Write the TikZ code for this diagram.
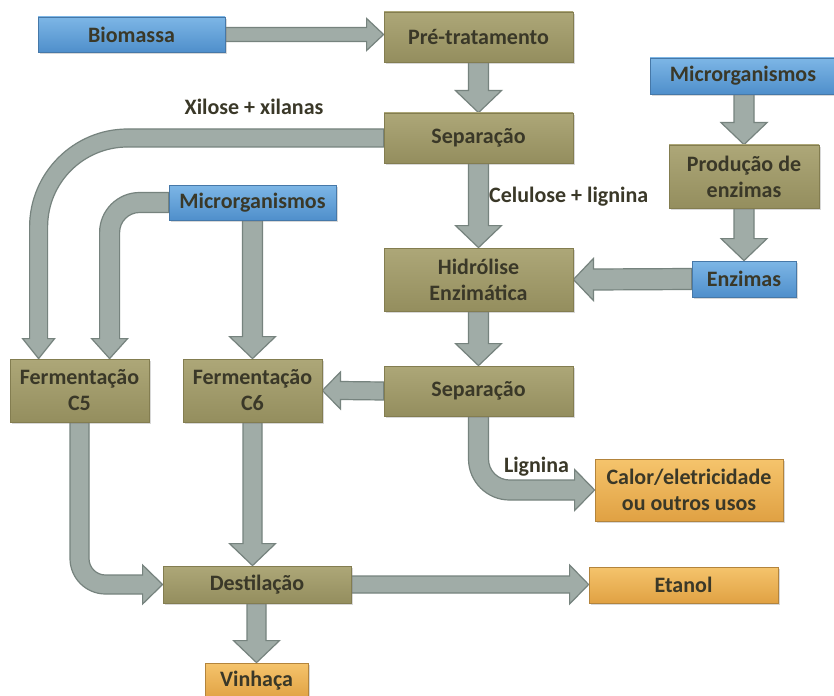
\documentclass[tikz,border=0pt]{standalone}
\usepackage{fontspec}
\setmainfont{Carlito}
\usetikzlibrary{calc,shadows}
\definecolor{oliveA}{HTML}{ADA778}
\definecolor{oliveC}{HTML}{948E5E}
\definecolor{oliveB}{HTML}{837D50}
\definecolor{blueA}{HTML}{7DB6E6}
\definecolor{blueC}{HTML}{4F8FCB}
\definecolor{blueB}{HTML}{4678A8}
\definecolor{orA}{HTML}{F5C46C}
\definecolor{orC}{HTML}{E0A143}
\definecolor{orB}{HTML}{B3843C}
\definecolor{arrF}{HTML}{A0ACA7}
\definecolor{arrB}{HTML}{76837E}
\definecolor{txt}{HTML}{3A3828}
\pgfdeclarelayer{back}\pgfdeclarelayer{bg}\pgfsetlayers{back,bg,main}
\tikzset{
 boxbase/.style={line width=0.8pt, inner sep=0pt, align=center, text=txt,
   font=\bfseries\fontsize{22}{26}\selectfont,
   drop shadow={opacity=0.3, shadow xshift=1.5pt, shadow yshift=-2pt}},
 olivebox/.style={boxbase, draw=oliveB, top color=oliveA, bottom color=oliveC},
 bluebox/.style={boxbase, draw=blueB, top color=blueA, bottom color=blueC},
 orbox/.style={boxbase, draw=orB, top color=orA, bottom color=orC},
 arr/.style={fill=arrF, draw=arrB, line width=1.2pt, line join=miter},
 lbl/.style={font=\bfseries\fontsize{22}{26}\selectfont, text=txt, inner sep=1pt}
}
% vertical block arrow: start, tip, half shaft, half head, head length (signed)
\newcommand\blockV[5]{%
 \filldraw[arr] ($(#1)+(-#3,0)$) -- ($(#2)+(-#3,-#5)$) -- ($(#2)+(-#4,-#5)$) -- (#2)
  -- ($(#2)+(#4,-#5)$) -- ($(#2)+(#3,-#5)$) -- ($(#1)+(#3,0)$) -- cycle;}
% horizontal block arrow: start, tip, half shaft, half head, head length (signed)
\newcommand\blockH[5]{%
 \filldraw[arr] ($(#1)+(0,-#3)$) -- ($(#2)+(#5,-#3)$) -- ($(#2)+(#5,-#4)$) -- (#2)
  -- ($(#2)+(#5,#4)$) -- ($(#2)+(#5,#3)$) -- ($(#1)+(0,#3)$) -- cycle;}
\begin{document}
\begin{tikzpicture}[x=1pt,y=-1pt]
\useasboundingbox (0,0) rectangle (834,695);
\begin{pgfonlayer}{back}
\fill[white] (0,0) rectangle (834,695);
\end{pgfonlayer}
% boxes
\node[bluebox, minimum width=187, minimum height=35] (bio) at (131.5,34.5) {Biomassa};
\node[olivebox, minimum width=189, minimum height=50] (pre) at (478.5,37) {Pré-tratamento};
\node[olivebox, minimum width=189, minimum height=50] (sep1) at (478.5,138) {Separação};
\node[olivebox, minimum width=189, minimum height=63] (hid) at (478.5,279.5) {Hidrólise\\Enzimática};
\node[bluebox, minimum width=186, minimum height=36] (micR) at (743,76) {Microrganismos};
\node[olivebox, minimum width=150, minimum height=63] (prod) at (744,176.5) {Produção de\\enzimas};
\node[bluebox, minimum width=104, minimum height=36] (enz) at (744,279) {Enzimas};
\node[bluebox, minimum width=167, minimum height=35] (micM) at (252.5,202.5) {Microrganismos};
\node[olivebox, minimum width=139, minimum height=63] (c5) at (79.5,390.5) {Fermentação\\C5};
\node[olivebox, minimum width=139, minimum height=63] (c6) at (252.5,390.5) {Fermentação\\C6};
\node[olivebox, minimum width=189, minimum height=50] (sep2) at (478.5,391) {Separação};
\node[orbox, minimum width=188, minimum height=62] (cal) at (689,490) {Calor/eletricidade\\ou outros usos};
\node[olivebox, minimum width=188, minimum height=37] (dest) at (257,584.5) {Destilação};
\node[orbox, minimum width=189, minimum height=36] (eta) at (683.5,585) {Etanol};
\node[orbox, minimum width=103, minimum height=36] (vin) at (256.5,681) {Vinhaça};
% labels
\node[lbl] (lx) at (254,107) {Xilose + xilanas};
\node[lbl, anchor=west] (lc) at (488,197) {Celulose + lignina};
\node[lbl] (ll) at (536.5,467) {Lignina};
% helper coordinates
\coordinate (pbt) at (pre.west |- bio.east);
\coordinate (mrs) at (micR.south -| prod.north);
\coordinate (dtop) at (c6.south |- dest.north);
\coordinate (vs) at (dest.south -| vin.north);
\coordinate (etw) at (eta.west |- dest.east);
\coordinate (t5a) at ($(c5.north west)+(29,0)$);
\coordinate (t5b) at ($(c5.north west)+(100,0)$);
\coordinate (K1) at (t5a |- sep1.west);
\coordinate (K2) at (t5b |- micM.west);
\coordinate (K3) at (sep2.south |- cal.west);
\coordinate (K4) at (c5.south |- dest.west);
\begin{pgfonlayer}{bg}
\blockH{bio.east}{pbt}{7}{16}{-17}
\blockV{pre.south}{sep1.north}{10}{23}{22}
\blockV{sep1.south}{hid.north}{10}{23}{22}
\blockV{hid.south}{sep2.north}{10}{23}{22}
\blockV{mrs}{prod.north}{10}{23}{22}
\blockV{prod.south}{enz.north}{10}{23}{22}
\blockH{enz.west}{hid.east}{10.5}{21}{20}
\blockV{micM.south}{c6.north}{10}{23}{22}
\blockH{sep2.west}{c6.east}{9}{18.5}{18}
\blockV{c6.south}{dtop}{9.5}{23}{22}
\blockV{vs}{vin.north}{9.5}{23}{22}
\blockH{dest.east}{etw}{8.5}{19.5}{-19}
% Xilose + xilanas
\filldraw[arr] ($(sep1.west)+(0,-9)$) -- ($(K1)+(89,-9)$)
  .. controls ($(K1)+(34.9,-9)$) and ($(K1)+(-9,34.9)$) .. ($(K1)+(-9,89)$)
  -- ($(t5a)+(-9,-20)$) -- ($(t5a)+(-16,-20)$) -- (t5a) -- ($(t5a)+(16,-20)$) -- ($(t5a)+(9,-20)$)
  -- ($(K1)+(9,89)$) .. controls ($(K1)+(9,44.8)$) and ($(K1)+(44.8,9)$) .. ($(K1)+(89,9)$)
  -- ($(sep1.west)+(0,9)$) -- cycle;
% Microrganismos -> C5
\filldraw[arr] ($(micM.west)+(0,-10)$) -- ($(K2)+(30,-10)$)
  .. controls ($(K2)+(7.9,-10)$) and ($(K2)+(-10,7.9)$) .. ($(K2)+(-10,30)$)
  -- ($(t5b)+(-10,-20)$) -- ($(t5b)+(-18,-20)$) -- (t5b) -- ($(t5b)+(18,-20)$) -- ($(t5b)+(10,-20)$)
  -- ($(K2)+(10,30)$) .. controls ($(K2)+(10,19)$) and ($(K2)+(19,10)$) .. ($(K2)+(30,10)$)
  -- ($(micM.west)+(0,10)$) -- cycle;
% Lignina
\filldraw[arr] ($(sep2.south)+(-10,0)$) -- ($(K3)+(-10,-31)$)
  .. controls ($(K3)+(-10,-8.4)$) and ($(K3)+(8.4,10)$) .. ($(K3)+(31,10)$)
  -- ($(cal.west)+(-20,10)$) -- ($(cal.west)+(-20,20.5)$) -- (cal.west) -- ($(cal.west)+(-20,-20.5)$) -- ($(cal.west)+(-20,-10)$)
  -- ($(K3)+(31,-10)$) .. controls ($(K3)+(19.4,-10)$) and ($(K3)+(10,-19.4)$) .. ($(K3)+(10,-31)$)
  -- ($(sep2.south)+(10,0)$) -- cycle;
% C5 -> Destilacao
\filldraw[arr] ($(c5.south)+(-9.5,0)$) -- ($(K4)+(-9.5,-26)$)
  .. controls ($(K4)+(-9.5,-6.4)$) and ($(K4)+(6.4,9.5)$) .. ($(K4)+(26,9.5)$)
  -- ($(dest.west)+(-20,9.5)$) -- ($(dest.west)+(-20,19.5)$) -- (dest.west) -- ($(dest.west)+(-20,-19.5)$) -- ($(dest.west)+(-20,-9.5)$)
  -- ($(K4)+(26,-9.5)$) .. controls ($(K4)+(16.9,-9.5)$) and ($(K4)+(9.5,-16.9)$) .. ($(K4)+(9.5,-26)$)
  -- ($(c5.south)+(9.5,0)$) -- cycle;
\end{pgfonlayer}
\end{tikzpicture}
\end{document}
